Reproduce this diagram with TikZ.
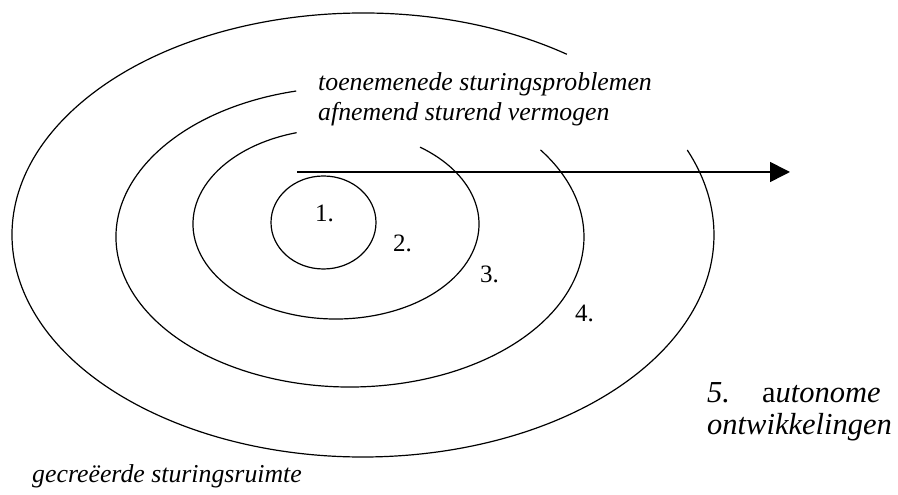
\documentclass[tikz,border=0pt]{standalone}
\usepackage{fontspec}
\setmainfont{Liberation Serif}
\usetikzlibrary{arrows.meta}
\tikzset{
  ring/.style={line width=1.2pt, black},
  flow/.style={line width=1.6pt, -{Triangle[length=20pt,width=20pt]}},
  lbl/.style={inner sep=0pt, anchor=base west, font=\fontsize{25}{30}\selectfont},
  itl/.style={inner sep=0pt, anchor=base west, font=\fontsize{25.8}{30}\selectfont\itshape},
  big/.style={inner sep=0pt, anchor=base west, font=\fontsize{30.5}{33}\selectfont\itshape}
}
\begin{document}
\begin{tikzpicture}[x=1pt,y=1pt]
\useasboundingbox (0,0) rectangle (898,495);
% rings (open at the upper right)
\draw[ring] (363,260) ++(54.5:351 and 222) arc[start angle=54.5, end angle=382.5, x radius=351pt, y radius=222pt];
\draw[ring] (350,258) ++(103.3:234 and 150) arc[start angle=103.3, end angle=395.5, x radius=234pt, y radius=150pt];
\draw[ring] (336,271) ++(106:143 and 95) arc[start angle=106, end angle=414, x radius=143pt, y radius=95pt];
\draw[ring] (323.5,272.5) ellipse[x radius=52.5pt, y radius=46.5pt];
% arrow
\coordinate (astart) at (297,323);
\coordinate (aend) at (790,323);
\draw[flow] (astart) -- (aend);
% texts
\node[itl] (t1) at (318,404) {toenemenede sturingsproblemen};
\node[itl] (t2) at (318,374) {afnemend sturend vermogen};
\node[lbl] (n1) at (315,273) {1.};
\node[lbl] (n2) at (393,243) {2.};
\node[lbl] (n3) at (480,212) {3.};
\node[lbl] (n4) at (575,173) {4.};
\node[big] (n5) at (707,92) {5.\hspace{32pt}{\upshape a}utonome};
\node[big] (n5b) at (707,60) {ontwikkelingen};
\node[itl] (g) at (32,12) {gecreëerde sturingsruimte};
\end{tikzpicture}
\end{document}
